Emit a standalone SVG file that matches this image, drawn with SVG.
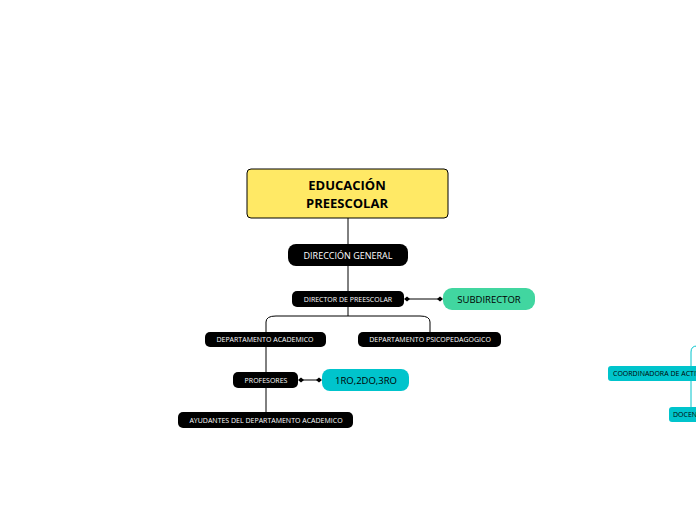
<svg xmlns="http://www.w3.org/2000/svg" width="696" height="520" viewBox="0 0 696 520">
<style>
text{font-family:"Open Sans","Noto Sans",sans-serif;text-anchor:middle;dominant-baseline:central}
.b{fill:#000}
.w{fill:#fff;font-size:7px}
.c{stroke:#000;stroke-width:1;fill:none}
</style>
<defs>
<marker id="d" viewBox="0 0 10 10" refX="5" refY="5" markerWidth="6" markerHeight="6" orient="auto"><path d="M0 5L5 1L10 5L5 9Z" fill="#000"/></marker>
</defs>
<rect width="696" height="520" fill="#fff"/>
<g id="connectors">
<path class="c" d="M348 218V244M348 266V291M348 307V316M266 332V322Q266 316 276 316H420Q430 316 430 322V332M266 347V372M266 388V412"/>
<path class="c" d="M407 299H440" marker-start="url(#d)" marker-end="url(#d)"/>
<path class="c" d="M301 380H319" marker-start="url(#d)" marker-end="url(#d)"/>
<path d="M691 366V352Q691 346 697 346M691 381V407" stroke="#00c4cc" fill="none"/>
</g>
<g id="n1"><rect x="247" y="169" width="201" height="49" rx="4" fill="#ffe965" stroke="#000"/><text x="347" y="185" font-size="13" font-weight="bold">EDUCACIÓN</text><text x="347" y="203" font-size="13" font-weight="bold">PREESCOLAR</text></g>
<g id="n2"><rect class="b" x="288" y="244" width="120" height="22" rx="8"/><text class="w" x="348" y="255" style="font-size:9px">DIRECCIÓN GENERAL</text></g>
<g id="n3"><rect class="b" x="292" y="291" width="112" height="16" rx="5"/><text class="w" x="348" y="299" style="font-size:7px">DIRECTOR DE PREESCOLAR</text></g>
<g id="n4"><rect x="443" y="288" width="92" height="22" rx="9" fill="#41d6a0"/><text x="489" y="299" font-size="9.5">SUBDIRECTOR</text></g>
<g id="n5"><rect class="b" x="205" y="332" width="121" height="15" rx="5"/><text class="w" x="265" y="339.5" style="font-size:7px">DEPARTAMENTO ACADEMICO</text></g>
<g id="n6"><rect class="b" x="358" y="332" width="143" height="15" rx="5"/><text class="w" x="430" y="339.5" style="font-size:7px">DEPARTAMENTO PSICOPEDAGOGICO</text></g>
<g id="n7"><rect class="b" x="233" y="372" width="65" height="16" rx="5"/><text class="w" x="266" y="380" style="font-size:7px">PROFESORES</text></g>
<g id="n8"><rect x="322" y="369" width="87" height="22" rx="8" fill="#00c4cc"/><text x="366" y="380" font-size="9.5">1RO,2DO,3RO</text></g>
<g id="n9"><rect class="b" x="178" y="412" width="175" height="16" rx="5"/><text class="w" x="266" y="420" style="font-size:7px">AYUDANTES DEL DEPARTAMENTO ACADEMICO</text></g>
<g id="n10"><rect x="608" y="366" width="100" height="15" rx="3" fill="#00c4cc"/><text x="613" y="373.5" font-size="7" style="text-anchor:start">COORDINADORA DE ACTIVIDADES</text></g>
<g id="n11"><rect x="669" y="407" width="40" height="15" rx="3" fill="#00c4cc"/><text x="673" y="414.5" font-size="7" style="text-anchor:start">DOCENTES</text></g>
</svg>
